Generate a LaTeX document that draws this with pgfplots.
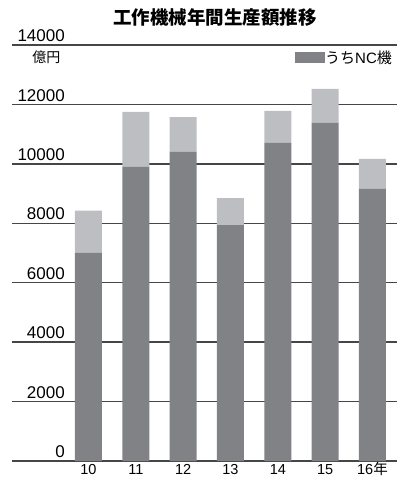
\documentclass[border=0pt]{standalone}
\usepackage{fontspec}
\setmainfont{Liberation Sans}
\newfontfamily\cjk{Noto Sans CJK JP}
\usepackage{pgfplots}
\pgfplotsset{compat=1.18}
\definecolor{nc}{RGB}{128,130,133}
\definecolor{other}{RGB}{189,190,194}
\definecolor{gridc}{RGB}{70,70,70}

\begin{document}
\begin{tikzpicture}
\useasboundingbox (-12pt,-19pt) rectangle (395pt,461pt);
\begin{axis}[
    at={(0pt,0pt)}, anchor=south west,
    scale only axis, width=385pt, height=416pt,
    ybar stacked, bar width=27pt,
    xmin=-1.616, xmax=6.518, ymin=0, ymax=14000,
    scaled y ticks=false,
    xtick={0,...,6},
    xticklabels={10,11,12,13,14,15,16{\cjk 年}},
    ytick={0,2000,4000,6000,8000,10000,12000,14000},
    yticklabels={0,2000,4000,6000,8000,10000,12000,14000},
    ymajorgrids, grid style={gridc, line width=1.3pt},
    axis line style={draw=none}, major tick length=0pt,
    yticklabel style={anchor=south east, inner sep=0pt, xshift=53pt, yshift=3pt,
        font=\fontsize{17}{17}\selectfont},
    xticklabel style={anchor=base, inner sep=0pt, yshift=-13pt,
        font=\fontsize{14.5}{14.5}\selectfont},
    title={\cjk\bfseries 工作機械年間生産額推移},
    title style={at={(0.527,1)}, anchor=center, yshift=22pt, inner sep=0pt,
        font=\fontsize{18.5}{18.5}\selectfont},
    legend style={at={(0.735,0.97)}, anchor=west, inner sep=0pt, draw=none, fill=none,
        font=\fontsize{15}{15}\selectfont,
        nodes={inner sep=0pt, anchor=west},
        /tikz/every even column/.style={column sep=8pt}},
    legend image code/.code={\fill[#1, draw=none] (0pt,-5.5pt) rectangle (30pt,5.5pt);},
]
\addplot[fill=nc, draw=none] coordinates {(0,7000) (1,9900) (2,10400) (3,7940) (4,10710) (5,11390) (6,9155)};
\addlegendentry{{\cjk うち}NC{\cjk 機}}
\addplot[fill=other, draw=none] coordinates {(0,1430) (1,1850) (2,1170) (3,910) (4,1070) (5,1130) (6,1010)};
\node[font=\cjk\fontsize{14}{14}\selectfont, inner sep=0pt] at (rel axis cs:0.0896,0.971) {億円};
\end{axis}
\end{tikzpicture}
\end{document}
